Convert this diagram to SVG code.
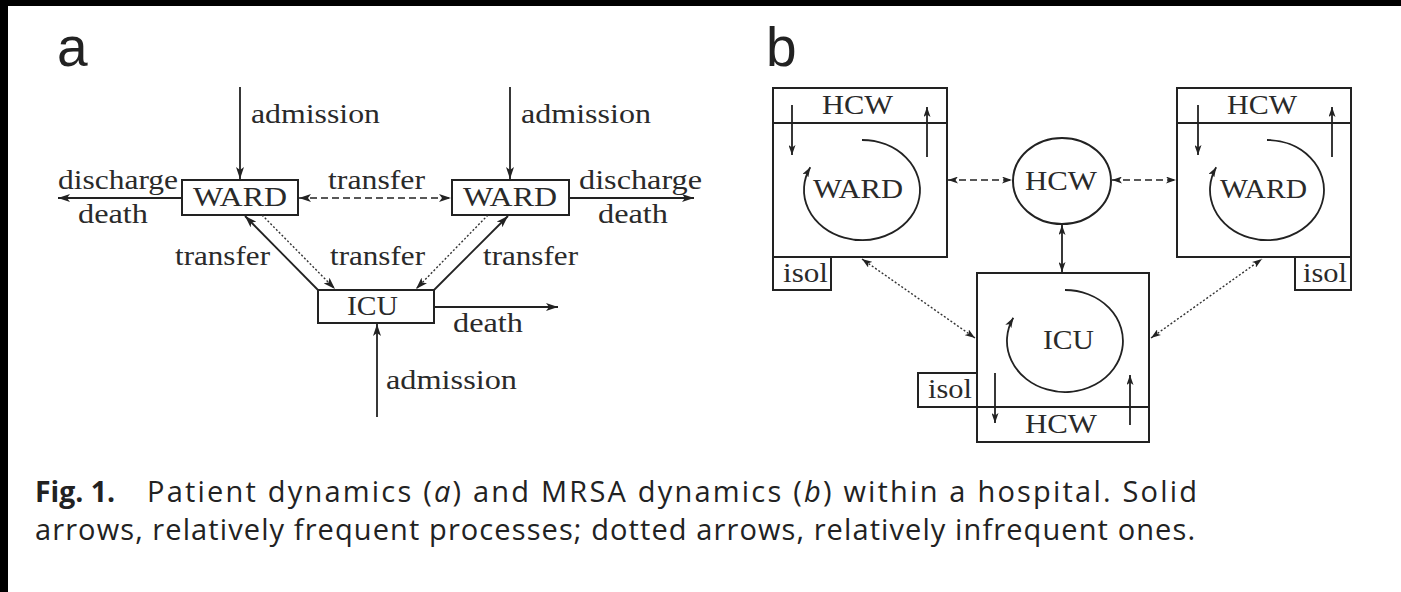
<svg xmlns="http://www.w3.org/2000/svg" width="1401" height="592" viewBox="0 0 1401 592">
<defs>
<marker id="ah" viewBox="0 0 12 8" refX="12" refY="4" markerWidth="12" markerHeight="8" markerUnits="userSpaceOnUse" orient="auto-start-reverse">
<path d="M0,0 L12,4 L0,8 L3,4 z" fill="#222"/>
</marker>
<marker id="ahs" viewBox="0 0 10 7" refX="10" refY="3.5" markerWidth="10" markerHeight="7" markerUnits="userSpaceOnUse" orient="auto-start-reverse">
<path d="M0,0 L10,3.5 L0,7 L2.5,3.5 z" fill="#222"/>
</marker>
<style>
.lbl{font-family:"Liberation Serif","DejaVu Serif",serif;font-size:28px;fill:#2a2a2a}
.box{fill:none;stroke:#222;stroke-width:2}
.ln{fill:none;stroke:#222;stroke-width:1.8}
.dash{fill:none;stroke:#222;stroke-width:1.6;stroke-dasharray:7 4}
.dot{fill:none;stroke:#333;stroke-width:1.4;stroke-dasharray:2 2}
.pl{font-family:"Liberation Sans",Arial,sans-serif;font-size:55px;fill:#222}
.cap{font-family:"Open Sans","Liberation Sans",sans-serif;font-size:29px;fill:#222}
</style>
</defs>
<rect width="1401" height="592" fill="#fff"/>
<rect x="0" y="0" width="1401" height="6" fill="#000"/>
<rect x="0" y="0" width="8" height="592" fill="#000"/>

<text class="pl" x="57" y="66">a</text>
<text class="pl" x="766" y="66">b</text>

<!-- Panel a nodes -->
<g id="a-ward-left">
<rect class="box" x="182" y="180" width="116" height="35"/>
<text class="lbl" x="193" y="206" textLength="94" lengthAdjust="spacingAndGlyphs">WARD</text>
</g>
<g id="a-ward-right">
<rect class="box" x="452" y="180" width="117" height="35"/>
<text class="lbl" x="463" y="206" textLength="94" lengthAdjust="spacingAndGlyphs">WARD</text>
</g>
<g id="a-icu">
<rect class="box" x="318" y="290" width="116" height="33"/>
<text class="lbl" x="347" y="315" textLength="51" lengthAdjust="spacingAndGlyphs">ICU</text>
</g>

<!-- Panel a connectors -->
<g id="a-connectors">
<line class="ln" x1="240" y1="87" x2="240" y2="179" marker-end="url(#ah)"/>
<line class="ln" x1="510" y1="87" x2="510" y2="179" marker-end="url(#ah)"/>
<line class="ln" x1="182" y1="198" x2="58" y2="198" marker-end="url(#ah)"/>
<line class="ln" x1="569" y1="198" x2="694" y2="198" marker-end="url(#ah)"/>
<line class="dash" x1="299" y1="198" x2="451" y2="198" marker-start="url(#ah)" marker-end="url(#ah)"/>
<line class="ln" x1="318" y1="290" x2="245" y2="216" marker-end="url(#ah)"/>
<line class="dot" x1="262" y1="215" x2="335" y2="289" marker-end="url(#ah)"/>
<line class="ln" x1="434" y1="290" x2="508" y2="216" marker-end="url(#ah)"/>
<line class="dot" x1="488" y1="215" x2="416" y2="289" marker-end="url(#ah)"/>
<line class="ln" x1="434" y1="307" x2="558" y2="307" marker-end="url(#ah)"/>
<line class="ln" x1="377" y1="417" x2="377" y2="324" marker-end="url(#ah)"/>
<text class="lbl" x="251" y="123" textLength="129" lengthAdjust="spacingAndGlyphs">admission</text>
<text class="lbl" x="521" y="123" textLength="130" lengthAdjust="spacingAndGlyphs">admission</text>
<text class="lbl" x="58" y="189" textLength="120" lengthAdjust="spacingAndGlyphs">discharge</text>
<text class="lbl" x="78" y="223" textLength="70" lengthAdjust="spacingAndGlyphs">death</text>
<text class="lbl" x="579" y="189" textLength="123" lengthAdjust="spacingAndGlyphs">discharge</text>
<text class="lbl" x="598" y="223" textLength="70" lengthAdjust="spacingAndGlyphs">death</text>
<text class="lbl" x="328" y="189" textLength="97" lengthAdjust="spacingAndGlyphs">transfer</text>
<text class="lbl" x="175" y="265" textLength="95" lengthAdjust="spacingAndGlyphs">transfer</text>
<text class="lbl" x="330" y="265" textLength="95" lengthAdjust="spacingAndGlyphs">transfer</text>
<text class="lbl" x="483" y="265" textLength="95" lengthAdjust="spacingAndGlyphs">transfer</text>
<text class="lbl" x="453" y="332" textLength="70" lengthAdjust="spacingAndGlyphs">death</text>
<text class="lbl" x="386" y="389" textLength="131" lengthAdjust="spacingAndGlyphs">admission</text>
</g>

<!-- Panel b nodes -->
<g id="b-ward-left">
<rect class="box" x="773" y="88" width="174" height="169"/>
<line class="ln" x1="773" y1="123" x2="947" y2="123"/>
<text class="lbl" x="822" y="114" textLength="71" lengthAdjust="spacingAndGlyphs">HCW</text>
<line class="ln" x1="792" y1="105" x2="792" y2="155" marker-end="url(#ahs)"/>
<line class="ln" x1="927" y1="157" x2="927" y2="107" marker-end="url(#ahs)"/>
<path class="ln" d="M862,140 A58,50 0 1 1 810.3,167.3" marker-end="url(#ahs)"/>
<text class="lbl" x="813" y="198" textLength="90" lengthAdjust="spacingAndGlyphs">WARD</text>
</g>
<g id="b-isol-left">
<rect class="box" x="773" y="257" width="58" height="33"/>
<text class="lbl" x="783" y="282" textLength="45" lengthAdjust="spacingAndGlyphs">isol</text>
</g>
<g id="b-hcw">
<ellipse class="box" cx="1062" cy="181" rx="49" ry="43"/>
<text class="lbl" x="1025" y="190" textLength="72" lengthAdjust="spacingAndGlyphs">HCW</text>
</g>
<g id="b-ward-right">
<rect class="box" x="1177" y="88" width="174" height="169"/>
<line class="ln" x1="1177" y1="123" x2="1351" y2="123"/>
<text class="lbl" x="1227" y="114" textLength="70" lengthAdjust="spacingAndGlyphs">HCW</text>
<line class="ln" x1="1198" y1="105" x2="1198" y2="155" marker-end="url(#ahs)"/>
<line class="ln" x1="1332" y1="157" x2="1332" y2="107" marker-end="url(#ahs)"/>
<path class="ln" d="M1267,140 A57,50 0 1 1 1216.2,167.3" marker-end="url(#ahs)"/>
<text class="lbl" x="1220" y="198" textLength="87" lengthAdjust="spacingAndGlyphs">WARD</text>
</g>
<g id="b-isol-right">
<rect class="box" x="1295" y="257" width="56" height="33"/>
<text class="lbl" x="1303" y="282" textLength="44" lengthAdjust="spacingAndGlyphs">isol</text>
</g>
<g id="b-icu">
<rect class="box" x="977" y="273" width="172" height="169"/>
<line class="ln" x1="977" y1="407" x2="1149" y2="407"/>
<text class="lbl" x="1025" y="433" textLength="72" lengthAdjust="spacingAndGlyphs">HCW</text>
<line class="ln" x1="995" y1="373" x2="995" y2="423" marker-end="url(#ahs)"/>
<line class="ln" x1="1130" y1="425" x2="1130" y2="375" marker-end="url(#ahs)"/>
<path class="ln" d="M1065,290 A58,51 0 1 1 1013.3,317.8" marker-end="url(#ahs)"/>
<text class="lbl" x="1043" y="349" textLength="51" lengthAdjust="spacingAndGlyphs">ICU</text>
</g>
<g id="b-isol-icu">
<rect class="box" x="918" y="373" width="59" height="34"/>
<text class="lbl" x="928" y="398" textLength="44" lengthAdjust="spacingAndGlyphs">isol</text>
</g>

<!-- Panel b connectors -->
<g id="b-connectors">
<line class="dash" x1="948" y1="180" x2="1012" y2="180" stroke-dasharray="5 4" marker-start="url(#ahs)" marker-end="url(#ahs)"/>
<line class="dash" x1="1112" y1="180" x2="1176" y2="180" stroke-dasharray="5 4" marker-start="url(#ahs)" marker-end="url(#ahs)"/>
<line class="ln" x1="1062" y1="225" x2="1062" y2="272" marker-start="url(#ahs)" marker-end="url(#ahs)"/>
<line class="dot" x1="862" y1="259" x2="975" y2="338" marker-start="url(#ahs)" marker-end="url(#ahs)"/>
<line class="dot" x1="1151" y1="338" x2="1262" y2="259" marker-start="url(#ahs)" marker-end="url(#ahs)"/>
</g>

<!-- Caption -->
<text class="cap" x="35" y="502" font-weight="bold" textLength="80" lengthAdjust="spacingAndGlyphs">Fig. 1.</text>
<text class="cap" x="147" y="502" textLength="1050">Patient dynamics (<tspan font-style="italic">a</tspan>) and MRSA dynamics (<tspan font-style="italic">b</tspan>) within a hospital. Solid</text>
<text class="cap" x="35" y="540" textLength="1160">arrows, relatively frequent processes; dotted arrows, relatively infrequent ones.</text>
</svg>
